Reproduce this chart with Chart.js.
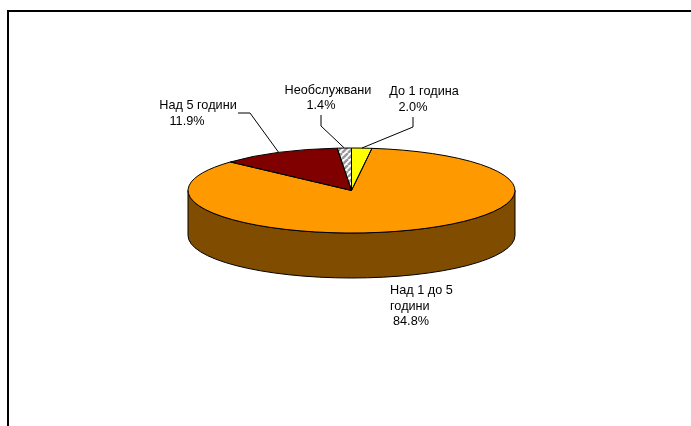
<!DOCTYPE html>
<html>
<head>
<meta charset="utf-8">
<style>
    html, body { margin: 0; padding: 0; background: #fff; overflow: hidden; }
    canvas { display: block; }
</style>
<script src="https://cdn.jsdelivr.net/npm/chart.js@4"></script>
</head>
<body>
<canvas id="myChart" width="691" height="426"></canvas>
<script>
// chart data
const categories = ["До 1 година", "Над 1 до 5 години", "Над 5 години", "Необслужвани"];
const shares = [2.0, 84.8, 11.9, 1.4];
const shareLabels = ["2.0%", "84.8%", "11.9%", "1.4%"];

// colors of the slices
const sliceColors = ["#FFFF00", "#FF9900", "#800000"];
const wallColor = "#804D00";

// look of the tilted pie
const topCenterY = 190.5;
const squash = 42.5 / 163.5;
const wallDepth = 45;

// label lines, each row is [text, x, y, align]
const labelRows = [
    [[categories[0], 424, 91, "center"], [shareLabels[0], 413, 107, "center"]],
    [["Над 1 до 5", 390, 290, "left"], ["години", 390, 306, "left"], [shareLabels[1], 393, 321, "left"]],
    [[categories[2], 198, 105, "center"], [shareLabels[2], 187, 121, "center"]],
    [[categories[3], 328, 90, "center"], [shareLabels[3], 321, 105, "center"]]
];

// elbow points of the leader lines, null when the slice has none
const leaderPoints = [
    [[413, 117], [413, 127]],
    null,
    [[238, 113], [250, 113]],
    [[321, 115], [321, 126]]
];

// diagonal hatch for the last slice
function makeHatch() {
    const size = 6;
    const tile = document.createElement("canvas");
    tile.width = size;
    tile.height = size;
    const t = tile.getContext("2d");
    t.fillStyle = "#fff";
    t.fillRect(0, 0, size, size);
    t.strokeStyle = "#999";
    t.lineWidth = 2.5;
    for (let i = -size; i <= size; i += size) {
        t.beginPath();
        t.moveTo(i, size);
        t.lineTo(i + size, 0);
        t.stroke();
    }
    const pattern = document.createElement("canvas").getContext("2d").createPattern(tile, "repeat");
    // the pie is squashed while drawing, so stretch the hatch back
    pattern.setTransform(new DOMMatrix().scale(1, 1 / squash));
    return pattern;
}

// plugin that tilts the pie and adds the wall, outlines, labels and frame
const tiltPlugin = {
    id: "tilt",
    beforeDatasetsDraw(chart) {
        const ctx = chart.ctx;
        const arcs = chart.getDatasetMeta(0).data;
        const cx = arcs[0].x;
        const rx = arcs[0].outerRadius;
        const ry = rx * squash;
        // side of the pie
        ctx.save();
        ctx.beginPath();
        ctx.ellipse(cx, topCenterY, rx, ry, 0, 0, Math.PI);
        ctx.lineTo(cx - rx, topCenterY + wallDepth);
        ctx.ellipse(cx, topCenterY + wallDepth, rx, ry, 0, Math.PI, 0, true);
        ctx.closePath();
        ctx.fillStyle = wallColor;
        ctx.fill();
        ctx.strokeStyle = "#000";
        ctx.lineWidth = 1;
        ctx.stroke();
        ctx.restore();
        // squash the slices about their center
        ctx.save();
        ctx.translate(0, topCenterY);
        ctx.scale(1, squash);
        ctx.translate(0, -arcs[0].y);
    },
    afterDatasetsDraw(chart) {
        const ctx = chart.ctx;
        ctx.restore();
        const arcs = chart.getDatasetMeta(0).data;
        ctx.save();
        ctx.strokeStyle = "#000";
        ctx.lineWidth = 1;
        arcs.forEach((arc, i) => {
            const rx = arc.outerRadius;
            const ry = rx * squash;
            // slice outline
            ctx.beginPath();
            ctx.moveTo(arc.x, topCenterY);
            ctx.ellipse(arc.x, topCenterY, rx, ry, 0, arc.startAngle, arc.endAngle);
            ctx.closePath();
            ctx.stroke();
            // leader line to the middle of the slice rim
            if (leaderPoints[i]) {
                const mid = (arc.startAngle + arc.endAngle) / 2;
                ctx.beginPath();
                leaderPoints[i].forEach((p, k) => {
                    if (k === 0) ctx.moveTo(p[0], p[1]);
                    else ctx.lineTo(p[0], p[1]);
                });
                ctx.lineTo(arc.x + rx * Math.cos(mid), topCenterY + ry * Math.sin(mid));
                ctx.stroke();
            }
        });
        // labels
        ctx.fillStyle = "#000";
        ctx.font = '12.7px "Liberation Sans"';
        ctx.textBaseline = "middle";
        labelRows.forEach(rows => rows.forEach(r => {
            ctx.textAlign = r[3];
            ctx.fillText(r[0], r[1], r[2]);
        }));
        // frame, only top and left are in view
        ctx.fillStyle = "#000";
        ctx.fillRect(7, 10, 684, 2);
        ctx.fillRect(7, 10, 2, 416);
        ctx.restore();
    }
};

new Chart(document.getElementById("myChart").getContext("2d"), {
    type: "pie",
    data: {
        labels: categories,
        datasets: [{
            data: shares,
            backgroundColor: [...sliceColors, makeHatch()],
            borderWidth: 0
        }]
    },
    options: {
        responsive: false,
        animation: false,
        // leaves a 327px square for the pie before it is squashed
        layout: { padding: { left: 188, right: 176, top: 50, bottom: 49 } },
        plugins: {
            legend: { display: false },
            title: { display: false },
            tooltip: { enabled: false }
        }
    },
    plugins: [tiltPlugin]
});
</script>
</body>
</html>
